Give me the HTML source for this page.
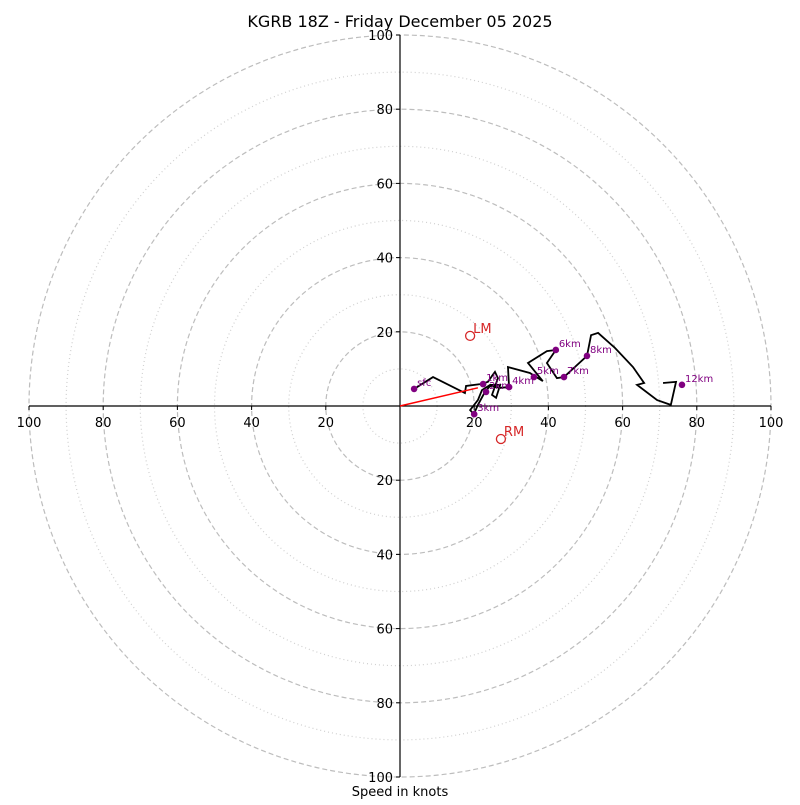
<!DOCTYPE html>
<html><head><meta charset="utf-8"><style>
body{margin:0;background:#fff}
svg text{font-family:"DejaVu Sans","Liberation Sans",sans-serif}
</style></head><body>
<svg id="chart" width="800" height="800" xmlns="http://www.w3.org/2000/svg">
<rect width="800" height="800" fill="#fff"/>
<text x="400" y="27" text-anchor="middle" font-size="16">KGRB 18Z - Friday December 05 2025</text>
<text x="400" y="796" text-anchor="middle" font-size="13">Speed in knots</text>
<g id="rings"></g><g id="axes"></g><g id="plot"></g>
</svg>
<script>
const ringMajor=[20,40,60,80,100];
const ringMinor=[10,30,50,70,90];
const tickVals=[20,40,60,80,100];
const traceU=[3.8,8.9,17.5,17.8,21.6,23.7,24.8,25.6,26.4,24.8,25.9,27.0,24.3,22.1,21.0,18.9,19.9,21.0,22.9,24.3,27.0,29.4,29.1,35.0,38.5,34.5,39.6,42.0,39.6,42.3,44.2,50.4,51.5,53.4,58.0,62.8,65.8,63.9,69.3,73.0,74.4,70.9];
const traceV=[4.6,7.8,3.5,5.4,5.9,6.5,8.1,9.2,7.5,3.0,2.2,5.7,5.7,4.3,1.6,-1.1,-2.2,0.3,3.8,5.4,4.9,5.1,10.5,8.9,6.7,11.6,14.8,15.1,11.6,7.5,7.8,13.5,19.1,19.7,15.6,10.5,6.2,5.7,1.6,0.3,6.5,6.2];
const hLabels=["sfc","1km","2km","3km","4km","5km","6km","7km","8km","12km"];
const hU=[3.8,22.4,23.2,20.0,29.4,36.1,42.0,44.2,50.4,76.0];
const hV=[4.6,5.9,3.8,-2.2,5.1,7.8,15.1,7.8,13.5,5.7];
const motionLabels=["LM","RM"];
const motionU=[18.9,27.2];
const motionV=[18.9,-8.9];
const meanWind=[21,4.9];
const NS="http://www.w3.org/2000/svg";
const cx=400,cy=406,k=3.71;
const X=u=>cx+u*k, Y=v=>cy-v*k;
function mk(t,a,p){const e=document.createElementNS(NS,t);for(const n in a)e.setAttribute(n,a[n]);p.appendChild(e);return e;}
const rings=document.getElementById('rings'),axes=document.getElementById('axes'),plot=document.getElementById('plot');
ringMajor.forEach(r=>{const c=mk('circle',{cx:cx,cy:cy,r:r*k,fill:'none',stroke:'#bdbdbd','stroke-width':1.2,'stroke-dasharray':'5,3'},rings);

});
ringMinor.forEach(r=>{const c=mk('circle',{cx:cx,cy:cy,r:r*k,fill:'none',stroke:'#cfcfcf','stroke-width':1.2,'stroke-dasharray':'1,3'},rings);

});
let l=mk('line',{x1:X(-100),y1:cy,x2:X(100),y2:cy,stroke:'#000','stroke-width':1.2},axes);


l=mk('line',{x1:cx,y1:Y(100),x2:cx,y2:Y(-100),stroke:'#000','stroke-width':1.2},axes);


tickVals.forEach(t=>{[-1,1].forEach(s=>{
 mk('line',{x1:X(s*t),y1:cy,x2:X(s*t),y2:cy+4,stroke:'#000'},axes);
 let e=mk('text',{x:X(s*t),y:cy+21,'text-anchor':'middle','font-size':13},axes);e.textContent=t;
 
 
 mk('line',{x1:cx-4,y1:Y(s*t),x2:cx,y2:Y(s*t),stroke:'#000'},axes);
 e=mk('text',{x:cx-7,y:Y(s*t)+5,'text-anchor':'end','font-size':13},axes);e.textContent=t;
 
 
});});
const tr=mk('polyline',{points:traceU.map((u,i)=>X(u)+','+Y(traceV[i])).join(' '),fill:'none',stroke:'#000','stroke-width':1.8,'stroke-linejoin':'miter'},plot);


const ar=mk('line',{x1:cx,y1:cy,x2:X(meanWind[0]),y2:Y(meanWind[1]),stroke:'#f00','stroke-width':1.5},plot);


hLabels.forEach((h,i)=>{
 const d=mk('circle',{cx:X(hU[i]),cy:Y(hV[i]),r:3.3,fill:'#800080'},plot);
 
 
 const t=mk('text',{x:X(hU[i])+3,y:Y(hV[i])-3,'font-size':10,fill:'#800080'},plot);t.textContent=h;
 
 
});
motionLabels.forEach((m,i)=>{
 const c=mk('circle',{cx:X(motionU[i]),cy:Y(motionV[i]),r:4.5,fill:'none',stroke:'#d62728','stroke-width':1.3},plot);
 
 
 const t=mk('text',{x:X(motionU[i])+3,y:Y(motionV[i])-3,'font-size':13,fill:'#d62728'},plot);t.textContent=m;
 
 
});
</script>
</body></html>
